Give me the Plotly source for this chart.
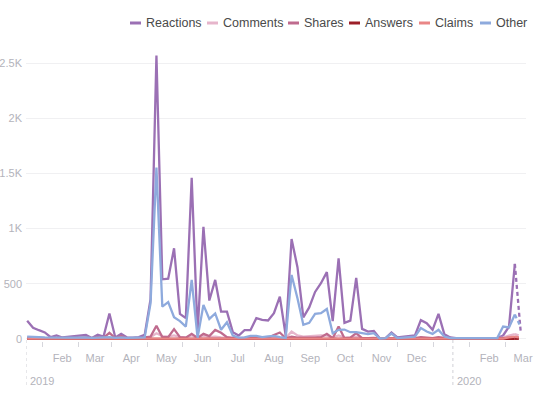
import pandas as pd
import plotly.graph_objects as go

# ---- data (5-day buckets, Jan 2019 - Feb 2020) ----
start_date = "2019-01-02"
end_date = "2020-02-28"
n_points = 85

reactions = [163, 100, 78, 58, 15, 30, 12, 18, 20, 28, 35, 8, 36, 20, 229, 12, 45, 12, 10, 15,
             36, 360, 2570, 540, 545, 821, 226, 187, 1460, 60, 1016, 347, 534, 247, 247, 60, 30, 78,
             78, 187, 172, 166, 232, 383, 30, 905, 650, 195, 285, 425, 504, 605, 160, 730, 145, 165,
             552, 90, 66, 72, 6, 6, 57, 12, 20, 27, 30, 169, 142, 81, 226, 42, 12, 6, 6, 12, 12, 6,
             9, 6, 6, 30, 110, 679, 60]
comments = [5, 5, 4, 4, 3, 4, 3, 4, 4, 5, 5, 3, 5, 4, 8, 3, 5, 3, 3, 3,
            6, 15, 50, 25, 20, 30, 15, 12, 30, 5, 25, 15, 20, 12, 10, 5, 5, 5,
            6, 6, 5, 6, 8, 10, 5, 66, 30, 20, 25, 28, 30, 28, 10, 30, 10, 10,
            20, 5, 5, 5, 3, 3, 5, 3, 4, 4, 4, 8, 6, 5, 8, 4, 3, 3, 3, 3, 3, 3,
            3, 3, 3, 10, 30, 42, 25]
shares = [10, 8, 6, 5, 3, 8, 5, 6, 8, 10, 12, 5, 15, 8, 54, 5, 25, 5, 3, 5,
          12, 20, 118, 15, 15, 88, 15, 10, 45, 8, 45, 25, 81, 55, 15, 5, 5, 8,
          10, 10, 8, 10, 35, 57, 5, 20, 10, 8, 10, 10, 15, 45, 5, 111, 5, 10,
          51, 5, 5, 8, 2, 2, 8, 2, 3, 3, 5, 15, 10, 5, 15, 5, 2, 2, 2, 2, 2, 2,
          2, 2, 2, 5, 10, 15, 5]
answers = [0] * n_points
claims = [1, 1, 1, 1, 0, 1, 0, 1, 1, 1, 1, 0, 1, 1, 2, 0, 1, 0, 0, 0,
          1, 2, 4, 2, 2, 3, 1, 1, 3, 0, 2, 1, 2, 1, 1, 0, 0, 1,
          1, 1, 1, 1, 1, 2, 0, 3, 2, 1, 1, 2, 2, 2, 1, 2, 1, 1,
          2, 0, 0, 1, 0, 0, 1, 0, 0, 0, 0, 2, 1, 1, 2, 0, 0, 0, 0, 0, 0, 0,
          0, 0, 0, 2, 12, 20, 10]
other = [20, 15, 15, 12, 10, 10, 8, 10, 10, 12, 12, 8, 12, 10, 15, 8, 12, 8, 8, 8,
         12, 323, 1554, 292, 332, 196, 160, 111, 534, 10, 308, 180, 230, 82, 150, 30, 10, 12,
         27, 27, 15, 21, 27, 15, 8, 579, 368, 127, 145, 226, 232, 270, 51, 81, 84, 60,
         60, 51, 42, 51, 3, 6, 48, 6, 12, 18, 20, 97, 66, 45, 81, 20, 6, 6, 6, 6, 6, 6,
         6, 6, 6, 111, 103, 220, 106]

series_names = ["Reactions", "Comments", "Shares", "Answers", "Claims", "Other"]
series_values = [reactions, comments, shares, answers, claims, other]
series_colors = ["#9b70b4", "#e6b5cb", "#bf6b8e", "#9c1f28", "#e98686", "#8eaadd"]

y_tick_vals = [0, 500, 1000, 1500, 2000, 2500]
y_tick_text = ["0", "500", "1K", "1.5K", "2K", "2.5K"]

month_tick_dates = ["2019-02-01", "2019-03-01", "2019-04-01", "2019-05-01", "2019-06-01",
                    "2019-07-01", "2019-08-01", "2019-09-01", "2019-10-01", "2019-11-01",
                    "2019-12-01", "2020-02-01", "2020-03-01"]
month_tick_text = ["Feb", "Mar", "Apr", "May", "Jun", "Jul", "Aug", "Sep", "Oct", "Nov",
                   "Dec", "Feb", "Mar"]
year_starts = ["2019-01-01", "2020-01-01"]
year_labels = ["2019", "2020"]

x_range = ["2019-01-01", "2020-03-03 12:00"]

dates = pd.date_range(start_date, end_date, periods=n_points)

FONT = "Liberation Sans, Arial, sans-serif"
GRAY = "#b3b3bb"

W, H = 541, 394
M = dict(l=26, r=15, t=50, b=53)
plot_w = W - M["l"] - M["r"]
plot_h = H - M["t"] - M["b"]


def px_to_paper_x(px):
    return (px - M["l"]) / plot_w


def px_to_paper_y(py):
    return (H - M["b"] - py) / plot_h


fig = go.Figure()
for name, vals, col in zip(series_names, series_values, series_colors):
    fig.add_trace(go.Scatter(
        x=dates[:-1], y=vals[:-1], mode="lines", name=name, showlegend=False,
        line=dict(color=col, width=2.3), hoverinfo="skip"))
for name, vals, col in zip(series_names, series_values, series_colors):
    fig.add_trace(go.Scatter(
        x=dates[-2:], y=vals[-2:], mode="lines", name=name, showlegend=False,
        line=dict(color=col, width=2.3, dash="4px,3px"), hoverinfo="skip"))

# legend row (top right): short line swatch + label
legend_line_starts_px = [130, 207, 288, 349, 419, 480]
legend_y_px = 23
swatch_len = 11
for name, col, x0 in zip(series_names, series_colors, legend_line_starts_px):
    fig.add_shape(type="line", xref="paper", yref="paper",
                  x0=px_to_paper_x(x0), x1=px_to_paper_x(x0 + swatch_len),
                  y0=px_to_paper_y(legend_y_px), y1=px_to_paper_y(legend_y_px),
                  line=dict(color=col, width=3))
    fig.add_annotation(x=px_to_paper_x(x0 + swatch_len + 3), y=px_to_paper_y(legend_y_px),
                       xref="paper", yref="paper", text=name, showarrow=False,
                       xanchor="left", yanchor="middle",
                       font=dict(family=FONT, size=12.5, color="#4a4a4a"))

# year boundary dashed lines and labels
for d, lab in zip(year_starts, year_labels):
    fig.add_shape(type="line", xref="x", yref="paper", x0=d, x1=d,
                  y0=px_to_paper_y(340), y1=px_to_paper_y(386),
                  line=dict(color="#d0d0d6", width=1, dash="3px,3px"))
    fig.add_annotation(x=d, y=px_to_paper_y(381), xref="x", yref="paper", text=lab,
                       showarrow=False, xanchor="left", yanchor="middle", xshift=2,
                       font=dict(family=FONT, size=11, color=GRAY))

fig.update_layout(
    width=W, height=H,
    margin=M,
    paper_bgcolor="white", plot_bgcolor="white",
    font=dict(family=FONT, size=11, color=GRAY),
    showlegend=False,
    xaxis=dict(type="date", range=x_range, showgrid=False, zeroline=False, showline=False,
               automargin=False,
               tickmode="array", tickvals=month_tick_dates, ticktext=month_tick_text,
               ticks="", tickfont=dict(family=FONT, size=11, color=GRAY),
               ticklabelstandoff=9,
               minor=dict(ticks="outside", ticklen=5, tickcolor="#d6d6dc", tickwidth=1,
                          dtick="M1", tick0="2019-01-15", showgrid=False)),
    yaxis=dict(range=[-20, 2620], tickmode="array", tickvals=y_tick_vals, ticktext=y_tick_text,
               automargin=False,
               showgrid=True, gridcolor="#f0f0f2", gridwidth=1, zeroline=False, showline=False,
               ticks="", tickfont=dict(family=FONT, size=11, color=GRAY), ticklabelstandoff=3),
)

fig.write_html("out.html", config={"displayModeBar": False},
               post_script="document.body.style.margin='0';")
